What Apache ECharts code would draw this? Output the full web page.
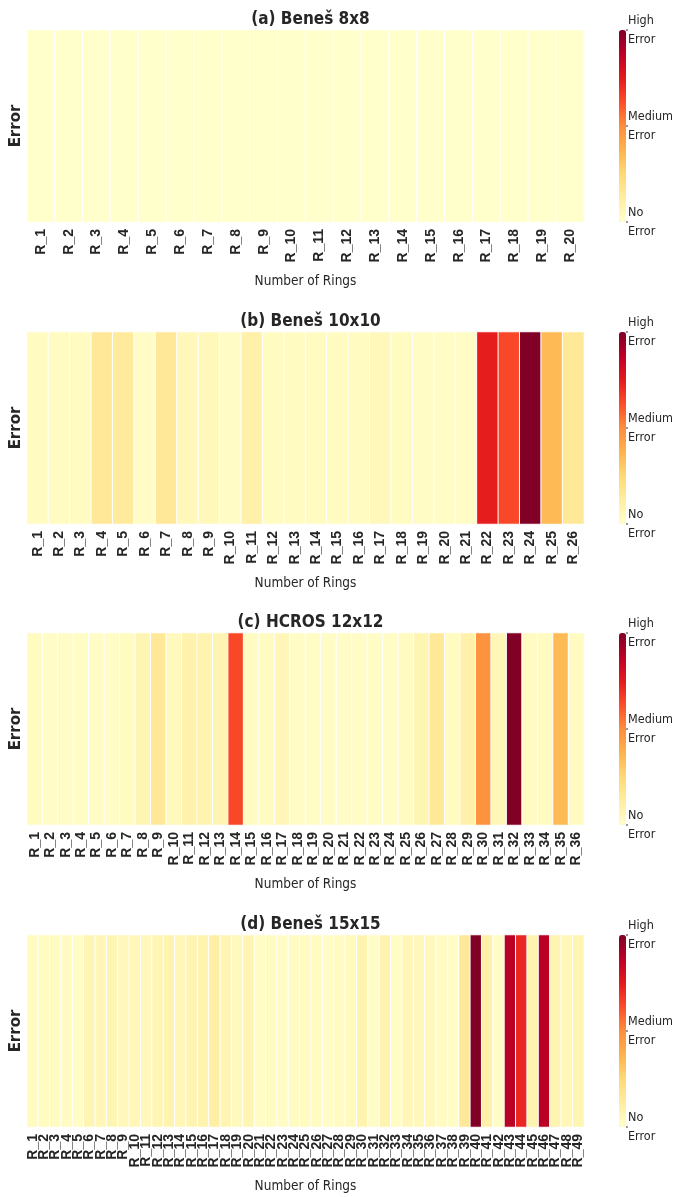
<!DOCTYPE html>
<html><head><meta charset="utf-8">
<script src="https://cdn.jsdelivr.net/npm/echarts@6/dist/echarts.min.js"></script>
<style>html,body{margin:0;padding:0;background:#fff}#c{width:679px;height:1197px}</style>
</head><body><div id="c"></div>
<script>
const titles = ['(a) Beneš 8x8', '(b) Beneš 10x10', '(c) HCROS 12x12', '(d) Beneš 15x15'];
const ringsA = ['R_1','R_2','R_3','R_4','R_5','R_6','R_7','R_8','R_9','R_10','R_11','R_12','R_13','R_14','R_15','R_16','R_17','R_18','R_19','R_20'];
const ringsB = ['R_1','R_2','R_3','R_4','R_5','R_6','R_7','R_8','R_9','R_10','R_11','R_12','R_13','R_14','R_15','R_16','R_17','R_18','R_19','R_20','R_21','R_22','R_23','R_24','R_25','R_26'];
const ringsC = ['R_1','R_2','R_3','R_4','R_5','R_6','R_7','R_8','R_9','R_10','R_11','R_12','R_13','R_14','R_15','R_16','R_17','R_18','R_19','R_20','R_21','R_22','R_23','R_24','R_25','R_26','R_27','R_28','R_29','R_30','R_31','R_32','R_33','R_34','R_35','R_36'];
const ringsD = ['R_1','R_2','R_3','R_4','R_5','R_6','R_7','R_8','R_9','R_10','R_11','R_12','R_13','R_14','R_15','R_16','R_17','R_18','R_19','R_20','R_21','R_22','R_23','R_24','R_25','R_26','R_27','R_28','R_29','R_30','R_31','R_32','R_33','R_34','R_35','R_36','R_37','R_38','R_39','R_40','R_41','R_42','R_43','R_44','R_45','R_46','R_47','R_48','R_49'];

const errA = [0,0,0,0,0,0,0,0,0,0,0,0,0,0,0,0,0,0,0,0];
const errB = [0.03,0.03,0.03,0.15,0.14,0.02,0.15,0.05,0.05,0.02,0.10,0.03,0.03,0.03,0.03,0.03,0.05,0.03,0.02,0.02,0.02,0.74,0.64,1.00,0.35,0.15];
const errC = [0.03,0.02,0.02,0.02,0.02,0.02,0.03,0.07,0.15,0.04,0.09,0.08,0.07,0.64,0.03,0.03,0.06,0.02,0.02,0.02,0.02,0.02,0.02,0.02,0.03,0.07,0.15,0.03,0.10,0.48,0.06,1.00,0.03,0.03,0.35,0.03];
const errD = [0.03,0.03,0.03,0.03,0.02,0.07,0.06,0.07,0.05,0.06,0.05,0.07,0.08,0.06,0.08,0.08,0.11,0.07,0.04,0.07,0.02,0.03,0.02,0.03,0.03,0.03,0.02,0.03,0.04,0.08,0.02,0.08,0.02,0.06,0.05,0.05,0.03,0.02,0.15,1.00,0.10,0.02,0.88,0.72,0.08,0.88,0.07,0.06,0.07];

const colorbarLabels = ['High\nError', 'Medium\nError', 'No\nError'];
const colorbarTicks = [1, 0.5, 0];
const yCategory = ['Error'];
const xName = 'Number of Rings';
const ylorrd = ['#ffffcc','#ffeda0','#fed976','#feb24c','#fd8d3c','#fc4e2a','#e31a1c','#bd0026','#800026'];

const rings = [ringsA, ringsB, ringsC, ringsD];
const errs = [errA, errB, errC, errD];

const panelTops = [30, 332, 633, 935];
const gridLeft = 27, gridWidth = 557, gridHeight = 192;
const cbLeft = 619, cbWidth = 7;
const tickFont = "'Liberation Sans', Arial, sans-serif";
const narrowFont = "'Liberation Sans Narrow', 'DejaVu Sans Condensed', 'Liberation Sans', sans-serif";
const titleFont = "'DejaVu Sans Condensed', 'DejaVu Sans', sans-serif";

const chart = echarts.init(document.getElementById('c'), null, {renderer: 'canvas'});

const grid = [], xAxis = [], yAxis = [], series = [], visualMap = [], title = [], graphic = [];
panelTops.forEach((top, i) => {
  grid.push({left: gridLeft, top: top, width: gridWidth, height: gridHeight, outerBoundsMode: 'none', containLabel: false});
  title.push({
    text: titles[i], left: gridLeft + gridWidth / 2, textAlign: 'center', top: top - 24,
    textStyle: {fontFamily: titleFont, fontWeight: 'bold', fontSize: 17, color: '#262626'}
  });
  xAxis.push({
    type: 'category', gridIndex: i, data: rings[i],
    axisLine: {show: false}, axisTick: {show: false}, splitLine: {show: false},
    axisLabel: {rotate: 90, interval: 0, margin: 7, fontFamily: tickFont, fontWeight: 'bold', fontSize: 14, color: '#262626'},
    name: xName, nameLocation: 'middle', nameGap: 52, nameMoveOverlap: false,
    nameTextStyle: {fontFamily: narrowFont, fontSize: 13.5, color: '#262626'}
  });
  yAxis.push({
    type: 'category', gridIndex: i, data: yCategory,
    axisLine: {show: false}, axisTick: {show: false}, axisLabel: {show: false}, splitLine: {show: false},
    name: 'Error', nameLocation: 'middle', nameGap: 3, nameRotate: 90, nameMoveOverlap: false,
    nameTextStyle: {fontFamily: "'DejaVu Sans', sans-serif", fontWeight: 'bold', fontSize: 15, color: '#262626'}
  });
  series.push({
    type: 'heatmap', xAxisIndex: i, yAxisIndex: i,
    data: errs[i].map((v, k) => [k, 0, v]),
    itemStyle: {borderColor: '#ffffff', borderWidth: 1},
    emphasis: {disabled: true}, progressive: 0, animation: false
  });
  visualMap.push({
    type: 'continuous', seriesIndex: i, min: 0, max: 1, calculable: false,
    orient: 'vertical', left: cbLeft, top: top, itemWidth: cbWidth, itemHeight: gridHeight,
    padding: 0, text: null, showLabel: false, hoverLink: false,
    inRange: {color: ylorrd}
  });
  colorbarLabels.forEach((lab, j) => {
    const y = top + gridHeight * (1 - colorbarTicks[j]);
    graphic.push({
      type: 'text', left: cbLeft + cbWidth + 2, top: y - 19, silent: true,
      style: {text: lab, font: '12.5px ' + narrowFont, fill: '#262626', lineHeight: 19}
    });
    graphic.push({
      type: 'line', silent: true,
      shape: {x1: cbLeft + cbWidth, y1: y, x2: cbLeft + cbWidth + 2, y2: y},
      style: {stroke: '#333', lineWidth: 1}
    });
  });
});

chart.setOption({
  animation: false,
  backgroundColor: '#ffffff',
  title, grid, xAxis, yAxis, series, visualMap, graphic
});
</script>
</body></html>
